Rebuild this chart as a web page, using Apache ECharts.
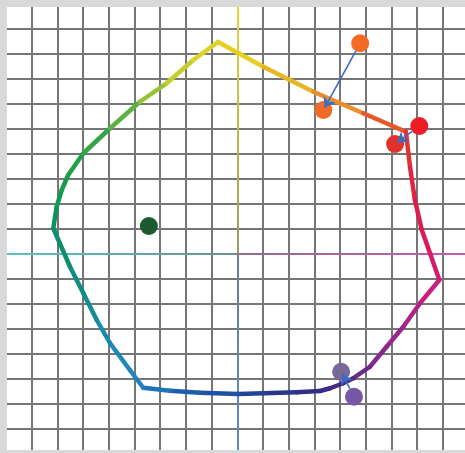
<!DOCTYPE html>
<html>
<head>
<meta charset="utf-8">
<script src="https://cdn.jsdelivr.net/npm/echarts@6/dist/echarts.min.js"></script>
<style>
  html, body { margin: 0; padding: 0; background: #ffffff; }
  #chart { width: 465px; height: 453px; }
</style>
</head>
<body>
<div id="chart"></div>
<script>
// grid cells, origin at the crossing of the coloured axes
const xTicks = [-9, 9];
const yTicks = [-8, 10];

// hue outline, clockwise from the top peak
const outlineX = [-0.75, 1.01, 2.96, 4.90, 6.56, 6.72, 6.91, 7.18, 7.50, 7.86,
    7.11, 6.46, 5.81, 5.16, 4.51, 4.12, 3.61, 3.22, 2.31, 1.01,
    0.04, -1.45, -2.62, -3.66, -4.18, -4.95, -5.47, -5.99, -6.51, -7.16,
    -7.03, -6.83, -6.58, -5.99, -4.95, -3.79, -2.75, -1.71];
const outlineY = [8.46, 7.47, 6.47, 5.61, 4.87, 3.47, 2.14, 0.94, 0.01, -1.06,
    -1.99, -2.93, -3.73, -4.53, -4.99, -5.19, -5.39, -5.50, -5.55, -5.59,
    -5.62, -5.57, -5.49, -5.37, -4.66, -3.59, -2.66, -1.59, -0.53, 1.01,
    1.87, 2.54, 3.14, 4.01, 5.01, 6.07, 6.81, 7.74];

// dots
const dotNames = ['orangeOut', 'orangeIn', 'redOut', 'redIn', 'green', 'purpleIn', 'purpleOut'];
const dotX = [4.78, 3.35, 7.08, 6.14, -3.44, 4.04, 4.54];
const dotY = [8.41, 5.74, 5.10, 4.38, 1.10, -4.73, -5.73];
const dotColors = ['#f26b27', '#f06a28', '#ee1c25', '#e2302a', '#1e5a30', '#776899', '#7757a8'];

// arrows: from dot -> to dot (indices into the dot arrays)
const arrowFrom = [0, 2, 6];
const arrowTo = [1, 3, 5];

// outline colour by angle (degrees) around the origin
const hueStops = [
    [-165, '#0f8e8a'], [-144, '#1a8ab5'], [-124, '#1f82c2'], [-115, '#1a64ae'],
    [-90, '#1e4a9e'], [-67, '#2c2f88'], [-52, '#4a2a86'], [-41, '#7b2a8b'],
    [-24, '#a5248d'], [-8, '#d01f78'], [0, '#d81b5e'], [17, '#dc1f48'],
    [37, '#e23a2a'], [49, '#ee7a2c'], [65, '#eca02a'], [82, '#e8c820'],
    [95, '#e4d41e'], [102, '#d5d42a'], [112, '#b0cc30'], [122, '#7dbb3c'],
    [135, '#3aa846'], [154, '#18a04a'], [172, '#0a9062'], [195, '#0f8e8a']
];

function hexToRgb(h) {
    return [parseInt(h.substr(1, 2), 16), parseInt(h.substr(3, 2), 16), parseInt(h.substr(5, 2), 16)];
}

function colorAtAngle(a) {
    if (a < -165) a += 360;
    for (let i = 0; i < hueStops.length - 1; i++) {
        const a0 = hueStops[i][0], a1 = hueStops[i + 1][0];
        if (a >= a0 && a <= a1) {
            const t = (a - a0) / (a1 - a0);
            const c0 = hexToRgb(hueStops[i][1]), c1 = hexToRgb(hueStops[i + 1][1]);
            const c = c0.map((v, k) => Math.round(v + (c1[k] - v) * t));
            return 'rgb(' + c.join(',') + ')';
        }
    }
    return hueStops[0][1];
}

function buildOutline() {
    const segs = [];
    const n = outlineX.length;
    for (let i = 0; i < n; i++) {
        const j = (i + 1) % n;
        const mx = (outlineX[i] + outlineX[j]) / 2;
        const my = (outlineY[i] + outlineY[j]) / 2;
        const ang = Math.atan2(my, mx) * 180 / Math.PI;
        segs.push({
            coords: [[outlineX[i], outlineY[i]], [outlineX[j], outlineY[j]]],
            lineStyle: { color: colorAtAngle(ang) }
        });
    }
    return segs;
}

function buildArrows() {
    return arrowFrom.map((f, k) => {
        const t = arrowTo[k];
        const dx = dotX[t] - dotX[f], dy = dotY[t] - dotY[f];
        const len = Math.sqrt(dx * dx + dy * dy);
        const s = 0.35 / len, e = 0.1 / len;
        return {
            coords: [[dotX[f] + dx * s, dotY[f] + dy * s], [dotX[t] - dx * e, dotY[t] - dy * e]]
        };
    });
}

function axisGradient(color, toCenterDir) {
    // toCenterDir: which way the gradient fades (towards the origin)
    const c = hexToRgb(color);
    const strong = 'rgba(' + c.join(',') + ',1)';
    const weak = 'rgba(' + c.join(',') + ',0.35)';
    const g = { x: 0, y: 0, x2: 0, y2: 0 };
    if (toCenterDir === 'down') g.y2 = 1;
    if (toCenterDir === 'up') { g.y = 1; }
    if (toCenterDir === 'right') g.x2 = 1;
    if (toCenterDir === 'left') { g.x = 1; }
    return new echarts.graphic.LinearGradient(g.x, g.y, g.x2, g.y2, [
        { offset: 0, color: strong }, { offset: 1, color: weak }
    ]);
}

const axisHalves = [
    { coords: [[0, yTicks[1]], [0, 0]], lineStyle: { color: axisGradient('#e6d83a', 'down') } },
    { coords: [[0, 0], [0, yTicks[0]]], lineStyle: { color: axisGradient('#5a8ccc', 'up') } },
    { coords: [[xTicks[0], 0], [0, 0]], lineStyle: { color: axisGradient('#56c4c8', 'right') } },
    { coords: [[0, 0], [xTicks[1], 0]], lineStyle: { color: axisGradient('#c45cb6', 'left') } }
];

const gridLine = {
    show: true,
    lineStyle: { color: '#767676', width: 2 }
};

const option = {
    animation: false,
    backgroundColor: '#ffffff',
    grid: {
        left: 6,
        right: -3.6,
        top: 3.5,
        bottom: -0.5,
        containLabel: false,
        outerBoundsMode: 'none'
    },
    xAxis: {
        type: 'value',
        min: xTicks[0],
        max: xTicks[1],
        interval: 1,
        axisLine: { show: false },
        axisTick: { show: false },
        axisLabel: { show: false },
        splitLine: gridLine
    },
    yAxis: {
        type: 'value',
        min: yTicks[0],
        max: yTicks[1],
        interval: 1,
        axisLine: { show: false },
        axisTick: { show: false },
        axisLabel: { show: false },
        splitLine: gridLine
    },
    series: [{
        type: 'lines',
        coordinateSystem: 'cartesian2d',
        z: 2,
        silent: true,
        lineStyle: { width: 2, opacity: 1 },
        data: axisHalves
    }, {
        type: 'lines',
        coordinateSystem: 'cartesian2d',
        z: 3,
        silent: true,
        lineStyle: { width: 4.5, opacity: 1, cap: 'round' },
        data: buildOutline()
    }, {
        type: 'scatter',
        z: 4,
        symbolSize: 18,
        data: dotX.map((x, i) => ({
            name: dotNames[i],
            value: [x, dotY[i]],
            itemStyle: { color: dotColors[i], opacity: 1 }
        }))
    }, {
        type: 'lines',
        coordinateSystem: 'cartesian2d',
        z: 5,
        silent: true,
        symbol: ['none', 'arrow'],
        symbolSize: [8, 10],
        lineStyle: { color: '#3b6cc4', width: 1.6, opacity: 1 },
        data: buildArrows()
    }],
    graphic: [
        { type: 'rect', z: 100, shape: { x: 0, y: 0, width: 7, height: 453 }, style: { fill: '#d9d9d9' } },
        { type: 'rect', z: 100, shape: { x: 0, y: 0, width: 465, height: 7 }, style: { fill: '#d9d9d9' } },
        { type: 'rect', z: 100, shape: { x: 0, y: 450, width: 465, height: 3 }, style: { fill: '#d9d9d9' } }
    ]
};

const myChart = echarts.init(document.getElementById('chart'));
myChart.setOption(option);
window.addEventListener('resize', myChart.resize);
</script>
</body>
</html>
